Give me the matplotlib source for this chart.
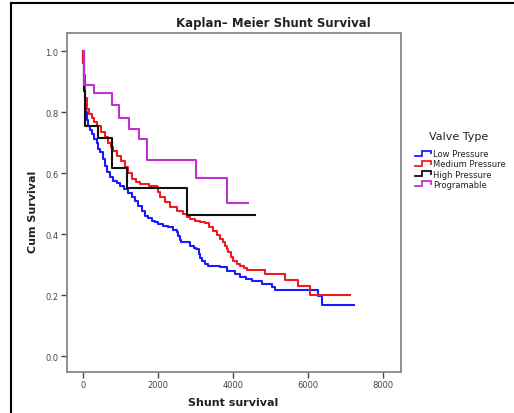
import matplotlib
matplotlib.use("Agg")
import matplotlib.pyplot as plt
from matplotlib.lines import Line2D
from matplotlib.legend_handler import HandlerBase

# ---------------- data ----------------
low_t = [0, 10, 20, 35, 50, 70, 100, 141, 185, 231, 300, 365, 408, 453, 520, 587,
         650, 720, 800, 900, 987, 1100, 1208, 1300, 1387, 1475, 1560, 1653, 1740,
         1832, 1920, 2008, 2140, 2275, 2390, 2499, 2540, 2587, 2620, 2853, 2950,
         3000, 3080, 3120, 3165, 3250, 3341, 3653, 3832, 4053, 4187, 4350, 4499,
         4766, 5032, 5120, 6275, 6365, 7227]
low_s = [1.000, 0.960, 0.920, 0.880, 0.840, 0.800, 0.775, 0.753, 0.740, 0.727, 0.712,
         0.700, 0.678, 0.668, 0.646, 0.624, 0.605, 0.586, 0.575, 0.566, 0.558, 0.547,
         0.536, 0.522, 0.509, 0.493, 0.477, 0.460, 0.452, 0.444, 0.438, 0.433, 0.428,
         0.422, 0.414, 0.406, 0.395, 0.380, 0.373, 0.362, 0.356, 0.350, 0.335, 0.322,
         0.312, 0.302, 0.296, 0.291, 0.280, 0.269, 0.258, 0.252, 0.247, 0.236, 0.225,
         0.217, 0.198, 0.167, 0.167]

med_t = [0, 8, 20, 40, 65, 98, 160, 231, 300, 365, 480, 587, 660, 738, 792, 900,
         1000, 1120, 1210, 1298, 1400, 1520, 1750, 1965, 2010, 2053, 2180, 2320,
         2500, 2675, 2765, 2853, 2987, 3120, 3253, 3360, 3475, 3560, 3653, 3720,
         3787, 3830, 3875, 3940, 4008, 4100, 4187, 4280, 4365, 4853, 5387, 5742,
         6053, 7120]
med_s = [1.000, 0.960, 0.920, 0.880, 0.845, 0.810, 0.795, 0.780, 0.767, 0.753, 0.735,
         0.717, 0.700, 0.684, 0.673, 0.655, 0.638, 0.619, 0.600, 0.580, 0.572, 0.564,
         0.558, 0.553, 0.537, 0.520, 0.505, 0.488, 0.476, 0.466, 0.455, 0.451, 0.444,
         0.440, 0.435, 0.424, 0.411, 0.398, 0.384, 0.373, 0.362, 0.351, 0.340, 0.326,
         0.312, 0.303, 0.294, 0.288, 0.283, 0.269, 0.250, 0.231, 0.200, 0.200]

high_t = [0, 15, 30, 45, 60, 391, 765, 1165, 2782, 4587]
high_s = [1.000, 0.920, 0.870, 0.820, 0.754, 0.715, 0.615, 0.551, 0.462, 0.462]

prog_t = [0, 25, 300, 765, 968, 1227, 1502, 1716, 3005, 3830, 4400]
prog_s = [1.000, 0.890, 0.861, 0.824, 0.782, 0.744, 0.711, 0.643, 0.584, 0.502, 0.502]

series_names = ["Low Pressure", "Medium Pressure", "High Pressure", "Programable"]
series_colors = ["#1a1aff", "#ee1c1c", "#111111", "#c030d0"]

x_ticks = [0, 2000, 4000, 6000, 8000]
y_ticks = [0.0, 0.2, 0.4, 0.6, 0.8, 1.0]

# ---------------- figure ----------------
W, H = 514, 414
fig = plt.figure(figsize=(W / 100, H / 100), dpi=100)
fig.patch.set_facecolor("white")

ax = fig.add_axes([67 / W, 1 - 373 / H, (401 - 67) / W, (373 - 34) / H])

data = [(low_t, low_s), (med_t, med_s), (high_t, high_s), (prog_t, prog_s)]
handles = []
for (t, s), name, col in zip(data, series_names, series_colors):
    ln, = ax.plot(t, s, drawstyle="steps-post", color=col, lw=1.5, label=name)
    handles.append(ln)

ax.set_xlim(-427, 8480)
ax.set_ylim(-0.052, 1.059)
ax.set_xticks(x_ticks)
ax.set_xticklabels([str(v) for v in x_ticks])
ax.set_yticks(y_ticks)
ax.set_yticklabels([f"{v:.1f}" for v in y_ticks])
ax.tick_params(axis="both", direction="out", length=4, width=1, color="#444444",
               labelsize=6, labelcolor="#444444", pad=2)
for sp in ax.spines.values():
    sp.set_color("#888888")
    sp.set_linewidth(1.3)

# titles / labels
fig.text(273 / W, 1 - 23 / H, "Kaplan– Meier Shunt Survival", ha="center", va="center",
         fontsize=8.5, fontweight="bold", color="#222222")
fig.text(233 / W, 1 - 403 / H, "Shunt survival", ha="center", va="center",
         fontsize=8, fontweight="bold", color="#222222")
fig.text(33 / W, 1 - 212 / H, "Cum Survival", ha="center", va="center", rotation=90,
         fontsize=8, fontweight="bold", color="#222222")


# legend with step-shaped icons
class StepHandler(HandlerBase):
    def create_artists(self, legend, orig_handle, xdescent, ydescent, width, height,
                       fontsize, trans):
        x0, y0 = -xdescent, -ydescent
        xm = x0 + 0.45 * width
        yl = y0 + 0.15 * height
        yh = y0 + 0.85 * height
        xs = [x0, xm, xm, x0 + width, x0 + width]
        ys = [yl, yl, yh, yh, y0 + 0.45 * height]
        line = Line2D(xs, ys, color=orig_handle.get_color(), lw=1.3,
                      solid_joinstyle="miter", transform=trans)
        return [line]


fig.text(459 / W, 1 - 137 / H, "Valve Type", ha="center", va="center",
         fontsize=8, color="#222222")
leg = fig.legend(handles=handles, labels=series_names,
                 handler_map={Line2D: StepHandler()},
                 loc="upper left", bbox_to_anchor=(415 / W, 1 - 150 / H),
                 frameon=False, fontsize=6,
                 handlelength=1.9, handleheight=0.9, handletextpad=0.3,
                 labelspacing=0.15, borderpad=0, borderaxespad=0)
for txt in leg.get_texts():
    txt.set_color("#222222")

# screenshot frame lines
fig.add_artist(Line2D([11 / W, 1], [1 - 4 / H, 1 - 4 / H], transform=fig.transFigure,
                      color="black", lw=1.5))
fig.add_artist(Line2D([11 / W, 11 / W], [0, 1 - 4 / H], transform=fig.transFigure,
                      color="black", lw=1.5))

fig.savefig("out.png", dpi=100, facecolor="white")
